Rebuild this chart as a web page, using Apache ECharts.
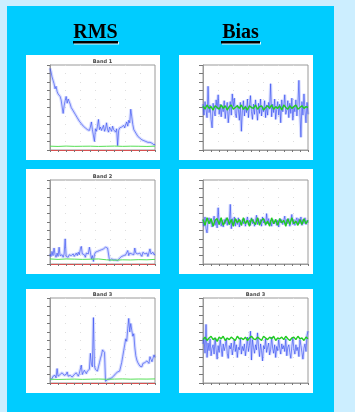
<!DOCTYPE html>
<html><head><meta charset="utf-8">
<script src="https://cdn.jsdelivr.net/npm/echarts@6/dist/echarts.min.js"></script>
<style>html,body{margin:0;padding:0;background:#cceeff;}#c{width:355px;height:412px;}</style>
</head><body><div id="c"></div>
<script>
// ---- text ----
const headings = ['RMS', 'Bias'];
const rmsTitles = ['Band 1', 'Band 2', 'Band 3'];
const biasTitles = ['', '', 'Band 3'];

// ---- RMS series (blue), one value per x step ----
const rms1 = [9.6,9.2,8.6,8.2,7.8,7.2,7.5,6.9,6.6,6.8,
  6.3,5.9,6.1,4.3,5.2,5.8,6.3,5.5,6.0,5.7,
  5.4,5.0,4.8,4.6,4.5,4.2,4.0,3.8,3.7,3.4,
  3.3,3.1,3.0,2.8,2.9,2.6,2.5,2.4,2.6,2.3,
  2.7,3.3,2.4,2.6,1.0,2.5,2.2,2.8,3.6,2.4,
  2.7,2.3,2.6,2.9,2.2,2.5,3.2,2.4,2.1,2.7,
  2.5,2.2,2.8,2.4,2.6,2.1,2.5,0.5,2.3,2.6,
  2.4,2.7,2.5,2.9,2.6,3.0,3.3,2.8,3.5,3.2,
  4.8,3.9,3.0,2.4,2.2,2.0,1.8,1.6,1.5,1.4,
  1.3,1.2,1.3,1.1,1.2,1.0,1.1,0.9,1.0,0.9,
  0.8,0.8,0.9,0.6,0.7];
const rms2 = [1.2,0.9,1.5,1.0,1.9,1.1,0.8,1.3,0.9,2.0,
  1.0,0.9,1.1,0.8,1.2,3.0,0.9,1.0,0.8,1.1,
  0.9,1.0,0.8,1.2,0.9,1.1,1.3,1.0,1.4,1.1,
  1.7,2.1,1.2,1.0,1.1,0.8,1.3,1.5,1.2,2.0,
  1.4,0.6,1.0,0.3,1.1,1.4,1.2,1.5,1.3,1.6,
  1.4,1.7,1.5,1.8,1.6,2.0,2.2,1.9,2.1,0.4,
  0.5,0.6,0.4,0.5,0.7,0.5,0.6,0.4,0.6,0.7,
  0.8,0.9,0.7,1.0,0.8,1.1,0.9,1.6,1.0,1.3,
  1.1,1.2,1.4,1.1,1.9,1.3,1.5,1.2,1.0,1.3,
  1.1,0.9,1.4,1.6,1.2,1.0,1.3,0.9,1.1,1.8,
  1.2,1.0,1.4,1.1,1.2];
const rms3 = [0.4,0.6,0.5,0.8,0.7,0.9,0.6,1.7,0.8,0.7,
  1.0,0.8,1.2,1.4,0.9,0.7,1.0,1.3,0.8,0.6,
  0.9,1.1,0.7,0.8,1.0,0.9,1.2,1.0,0.8,1.1,
  1.3,2.1,1.0,1.2,1.5,1.3,1.1,1.4,1.2,1.6,
  3.5,2.2,1.9,7.7,2.0,1.6,1.8,1.4,1.9,2.4,
  2.9,3.3,3.9,4.0,3.6,0.2,0.3,0.4,0.3,0.5,
  0.4,0.6,0.5,0.8,0.9,1.1,1.0,1.3,1.5,1.4,
  1.9,2.4,3.1,3.8,4.5,5.2,4.9,6.4,7.6,6.0,
  7.0,6.2,5.5,5.8,4.2,3.2,2.7,2.4,2.2,2.0,
  2.1,1.9,2.3,2.1,2.4,2.2,2.6,2.4,2.3,3.1,
  2.8,2.5,2.9,3.3,3.0];

// ---- RMS reference lines (green), one value every 8 x steps ----
const rmsGreen1 = [0.45,0.42,0.46,0.43,0.44,0.45,0.42,0.44,0.46,0.43,0.45,0.44,0.42,0.45];
const rmsGreen2 = [0.6,0.55,0.6,0.58,0.55,0.57,0.6,0.5,0.45,0.5,0.48,0.52,0.5,0.55];
const rmsGreen3 = [0.45,0.42,0.44,0.46,0.43,0.45,0.47,0.44,0.46,0.48,0.45,0.47,0.46,0.48];

// ---- Bias series (blue) ----
const bias1 = [0.4,-0.9,0.7,-0.3,-1.2,2.5,-0.6,0.3,-1.4,-2.4,
  0.5,-0.4,-1.0,0.9,-0.2,1.5,-0.8,0.4,-1.1,0.2,
  -0.5,0.8,-1.3,-0.2,0.6,-1.8,-0.5,0.7,-0.9,1.6,
  0.1,1.1,-0.7,-1.2,0.3,-0.2,-1.5,0.6,-2.8,-0.4,
  0.8,-1.0,0.2,-0.6,1.0,-1.2,0.1,1.4,-0.5,-1.4,
  0.4,-0.8,0.9,-0.3,-1.5,0.5,-0.7,1.0,-1.0,0.1,
  -0.5,0.8,-1.2,0.3,-0.9,0.6,-0.2,2.8,-1.1,0.4,
  -0.6,1.0,-1.4,-0.2,0.7,-0.9,0.4,-1.8,0.9,-0.5,
  0.2,1.5,-0.8,-0.3,0.8,-1.2,0.5,-0.7,1.1,-1.5,
  0.1,-0.5,0.9,-1.0,0.3,3.2,-0.6,-3.5,0.7,-0.9,
  1.6,-0.4,-1.8,0.6,-0.8];
const bias2 = [0.3,-0.5,0.6,-0.8,-1.3,0.2,0.5,-0.2,0.4,-0.6,
  0.1,0.7,-0.4,0.3,-0.7,1.7,-0.3,0.4,-0.5,0.2,
  -0.6,0.3,-0.2,0.5,-0.4,0.3,-0.3,2.1,-0.8,0.4,
  -0.2,0.6,-0.5,0.3,-0.3,0.5,-0.6,0.2,-0.4,0.3,
  -0.2,0.4,-0.5,0.1,0.6,-0.3,0.2,-0.4,0.5,-0.2,
  0.3,-0.5,0.2,0.8,-0.3,0.4,-0.2,0.3,-0.5,0.6,
  -0.1,0.3,-0.4,1.0,-0.2,0.4,-0.3,0.2,-0.5,0.3,
  0.5,-0.2,0.3,-0.4,0.2,-0.6,0.4,-0.1,0.3,-0.3,
  0.2,0.7,-0.4,0.3,-0.2,0.4,-0.5,0.2,0.9,-0.3,
  0.3,-0.4,0.2,0.5,-0.3,0.4,-0.2,0.6,-0.4,0.3,
  -0.2,0.5,-0.3,0.2,-0.1];
const bias3 = [-0.4,0.3,-1.5,1.9,-2.0,-0.3,-1.2,0.2,-1.8,-0.9,
  -0.5,-1.6,0.3,-1.1,-2.2,-0.6,-1.4,0.1,-0.8,-1.9,
  -0.4,-1.2,-0.7,0.2,-1.5,-2.1,-0.6,-1.0,-0.3,-1.7,
  -0.9,0.1,-1.3,-0.5,-2.0,-0.8,-1.1,0.3,-1.6,-0.7,
  -1.2,-0.4,-1.8,-0.9,0.4,-1.3,-0.6,1.1,-2.3,0.1,
  -0.8,-1.5,-0.5,-1.1,0.9,-0.7,-1.9,-0.4,-1.2,-2.4,
  -0.6,-1.0,0.2,-1.4,-0.8,-0.3,-1.7,-1.1,0.4,-0.9,
  -1.5,-0.5,-2.0,-0.7,-1.2,0.1,-0.9,-1.6,-0.4,-1.0,
  -0.6,-1.3,0.2,-1.8,-0.8,-0.5,-1.4,-2.1,-0.7,0.3,
  -1.0,-1.6,-0.5,-1.2,-0.8,-1.9,0.1,-0.6,-1.4,-2.2,
  -0.9,-0.4,-1.3,0.6,1.1];

// ---- Bias reference lines (green), one value every 2 x steps ----
const biasGreen1 = [0.2,-0.2,0.3,-0.1,0.1,-0.3,0.2,0.0,-0.2,0.3,
  -0.1,0.2,-0.3,0.1,0.3,-0.2,0.0,0.2,-0.1,0.3,
  -0.2,0.1,-0.3,0.2,0.0,-0.1,0.3,-0.2,0.1,0.2,
  -0.3,0.0,0.2,-0.1,0.3,-0.2,0.1,-0.1,0.2,-0.3,
  0.3,0.0,-0.2,0.2,-0.1,0.1,0.3,-0.2,0.0,0.2,
  -0.1,0.1,0.0];
const biasGreen2 = [0.3,-0.4,0.5,-0.2,0.4,-0.5,0.2,0.4,-0.3,0.5,
  -0.4,0.1,0.5,-0.3,0.3,-0.5,0.4,-0.1,0.3,-0.4,
  0.5,-0.2,0.2,-0.5,0.4,0.0,-0.3,0.5,-0.4,0.2,
  0.4,-0.3,0.1,-0.5,0.5,-0.2,0.3,-0.4,0.4,-0.1,
  0.2,-0.5,0.4,-0.3,0.5,-0.2,0.1,-0.4,0.3,-0.3,
  0.4,-0.2,0.2];
const biasGreen3 = [0.1,0.4,0.0,0.3,0.5,0.1,0.3,-0.1,0.4,0.2,
  0.5,0.0,0.3,0.1,0.4,0.2,0.0,0.5,0.2,0.3,
  0.1,0.4,0.0,0.3,0.5,0.2,0.1,0.4,0.2,0.0,
  0.5,0.3,0.1,0.4,0.2,0.5,0.0,0.3,0.2,0.4,
  0.1,0.5,0.2,0.0,0.3,0.4,0.1,0.5,0.2,0.3,
  0.0,0.4,0.2];

// ---- build ----
const rmsSets = [rms1, rms2, rms3];
const rmsGreens = [rmsGreen1, rmsGreen2, rmsGreen3];
const biasSets = [bias1, bias2, bias3];
const biasGreens = [biasGreen1, biasGreen2, biasGreen3];

const frameRows = [[65, 85], [180, 84], [298, 85]];
const boxRows = [[55, 105], [169, 105], [289, 104]];
const cols = [{box: 26, frame: 50}, {box: 179, frame: 203}];

const chart = echarts.init(document.getElementById('c'), null, {renderer: 'canvas'});

const grids = [], xAxes = [], yAxes = [], series = [], graphics = [];

graphics.push({type: 'rect', z: -10, shape: {x: 7, y: 6, width: 327, height: 410}, style: {fill: '#00ccff'}});
for (let r = 0; r < 3; r++) {
  for (let c = 0; c < 2; c++) {
    graphics.push({type: 'rect', z: -9, shape: {x: cols[c].box, y: boxRows[r][0], width: 134, height: boxRows[r][1]}, style: {fill: '#ffffff'}});
  }
}
const headX = [95.5, 240.5];
const underline = [[73, 45], [221, 39]];
headings.forEach((h, i) => {
  graphics.push({type: 'text', z: 10, x: headX[i], y: 33, style: {
    text: h, font: 'bold 20px "Liberation Serif", serif', fill: '#000', align: 'center', verticalAlign: 'middle',
    shadowColor: 'rgba(255,255,255,0.85)', shadowOffsetX: 1, shadowOffsetY: 1, shadowBlur: 0}});
  graphics.push({type: 'rect', z: 10, shape: {x: underline[i][0], y: 41, width: underline[i][1], height: 2.5},
    style: {fill: '#000', shadowColor: 'rgba(255,255,255,0.85)', shadowOffsetX: 1, shadowOffsetY: 1, shadowBlur: 0}});
});

function addPlot(col, row, title, blue, green, greenStep, isRms) {
  const gi = grids.length;
  const left = cols[col].frame, top = frameRows[row][0], h = frameRows[row][1];
  grids.push({left: left, top: top, width: 105, height: h, show: true, backgroundColor: '#fff', borderColor: '#9a9a9a', borderWidth: 1, containLabel: false});
  xAxes.push({type: 'value', gridIndex: gi, min: 0, max: 104, interval: 8,
    axisLine: {show: true, onZero: false, lineStyle: {color: isRms ? '#d85050' : '#9a9a9a', width: 1}},
    axisTick: {show: true, inside: false, length: 2, lineStyle: {color: '#777'}},
    axisLabel: {show: false}, splitLine: {show: false}});
  yAxes.push({type: 'value', gridIndex: gi, min: isRms ? 0 : -5, max: isRms ? 10 : 5, interval: 1,
    axisLine: {show: true, lineStyle: {color: '#9a9a9a'}},
    axisTick: {show: true, inside: false, length: isRms ? 3 : 4, lineStyle: {color: '#777'}},
    axisLabel: {show: false},
    splitLine: {show: true, interval: 2, lineStyle: {color: '#dddddd', type: [1, 14], width: 1}}});
  if (title) {
    graphics.push({type: 'text', z: 10, x: left + 52.5, y: top - 3.5, style: {text: title, font: 'bold 5px "DejaVu Sans", sans-serif', fill: '#444', align: 'center', verticalAlign: 'middle'}});
  }
  const pts = blue.map((v, i) => [i, v]);
  const gpts = green.map((v, i) => [i * greenStep, v]);
  series.push({type: 'line', xAxisIndex: gi, yAxisIndex: gi, data: pts, symbol: 'none', silent: true, z: 2,
    lineStyle: {color: 'rgba(100,120,255,0.25)', width: 3.2}});
  series.push({type: 'line', xAxisIndex: gi, yAxisIndex: gi, data: pts, symbol: 'none', silent: true, z: 3,
    lineStyle: {color: 'rgba(45,70,240,0.75)', width: 0.8}});
  series.push({type: 'line', xAxisIndex: gi, yAxisIndex: gi, data: gpts, symbol: 'none', silent: true, z: 4,
    lineStyle: {color: isRms ? '#55e055' : '#22cc22', width: isRms ? 1 : 1.4}});
}

for (let r = 0; r < 3; r++) {
  addPlot(0, r, rmsTitles[r], rmsSets[r], rmsGreens[r], 8, true);
  addPlot(1, r, biasTitles[r], biasSets[r], biasGreens[r], 2, false);
}

chart.setOption({
  backgroundColor: '#cceeff',
  animation: false,
  grid: grids, xAxis: xAxes, yAxis: yAxes, series: series,
  graphic: {elements: graphics}
});
</script></body></html>
